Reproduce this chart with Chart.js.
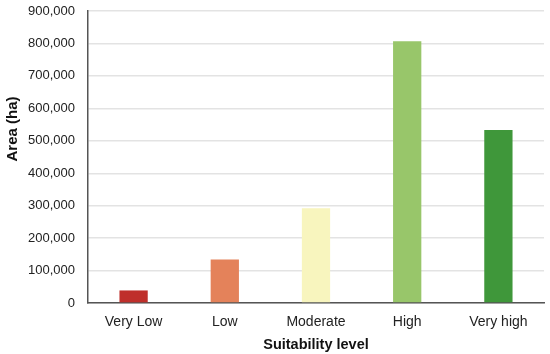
<!DOCTYPE html>
<html>
<head>
<meta charset="utf-8">
<script src="https://cdn.jsdelivr.net/npm/chart.js@4"></script>
<style>
  html, body { margin: 0; padding: 0; background: #fff; }
  #wrap { width: 550px; height: 354px; }
</style>
</head>
<body>
<div id="wrap"><canvas id="grafico"></canvas></div>
<script>
// dati
var livelli = ['Very Low', 'Low', 'Moderate', 'High', 'Very high'];
var areaEttari = [39000, 134000, 292000, 807000, 533000];
var colori = ['#bf2f2b', '#e4825a', '#f8f5be', '#98c66a', '#3f973a'];
var tickY = [0, 100000, 200000, 300000, 400000, 500000, 600000, 700000, 800000, 900000];
var titoloY = 'Area (ha)';

var font = "'Liberation Sans', Arial, sans-serif";

// titolo asse y disegnato a mano: nell'originale non e' centrato sull'asse
var titoloAsseY = {
  id: 'titoloAsseY',
  afterDraw: function(chart){
    var ctx = chart.ctx;
    ctx.save();
    ctx.translate(13, 129);
    ctx.rotate(-Math.PI / 2);
    ctx.fillStyle = '#111';
    ctx.font = 'bold 15px ' + font;
    ctx.textAlign = 'center';
    ctx.textBaseline = 'middle';
    ctx.fillText(titoloY, 0, 0);
    ctx.restore();
  }
};

var myChart = new Chart(document.getElementById('grafico'), {
  type: 'bar',
  data: {
    labels: livelli,
    datasets: [{
      data: areaEttari,
      backgroundColor: colori,
      categoryPercentage: 1,
      barPercentage: 0.31
    }]
  },
  options: {
    responsive: true,
    maintainAspectRatio: false,
    animation: false,
    layout: { padding: { top: 0, right: 6, left: 15, bottom: 0 } },
    plugins: {
      legend: { display: false },
      tooltip: { enabled: false }
    },
    scales: {
      x: {
        grid: { display: false, drawTicks: false },
        border: { display: true, color: '#555', width: 1.5 },
        ticks: { color: '#222', font: { family: font, size: 14, lineHeight: 1.1 }, padding: 11 },
        title: {
          display: true, text: 'Suitability level', color: '#111',
          font: { family: font, size: 14.5, weight: 'bold', lineHeight: 1 }, padding: { top: -3, bottom: 2 }
        }
      },
      y: {
        min: 0,
        max: 900000,
        afterBuildTicks: function(scale){
          scale.ticks = tickY.map(function(v){ return { value: v }; });
        },
        afterFit: function(scale){
          // meno spazio sopra l'asse
          scale.paddingTop = 11;
        },
        grid: { color: '#e3e3e3', lineWidth: 1.5, drawTicks: false },
        border: { display: true, color: '#555', width: 1.5 },
        ticks: {
          color: '#222', font: { family: font, size: 13 }, padding: 13,
          callback: function(v){ return v.toLocaleString('en-US'); }
        }
      }
    }
  },
  plugins: [titoloAsseY]
});
</script>
</body>
</html>
